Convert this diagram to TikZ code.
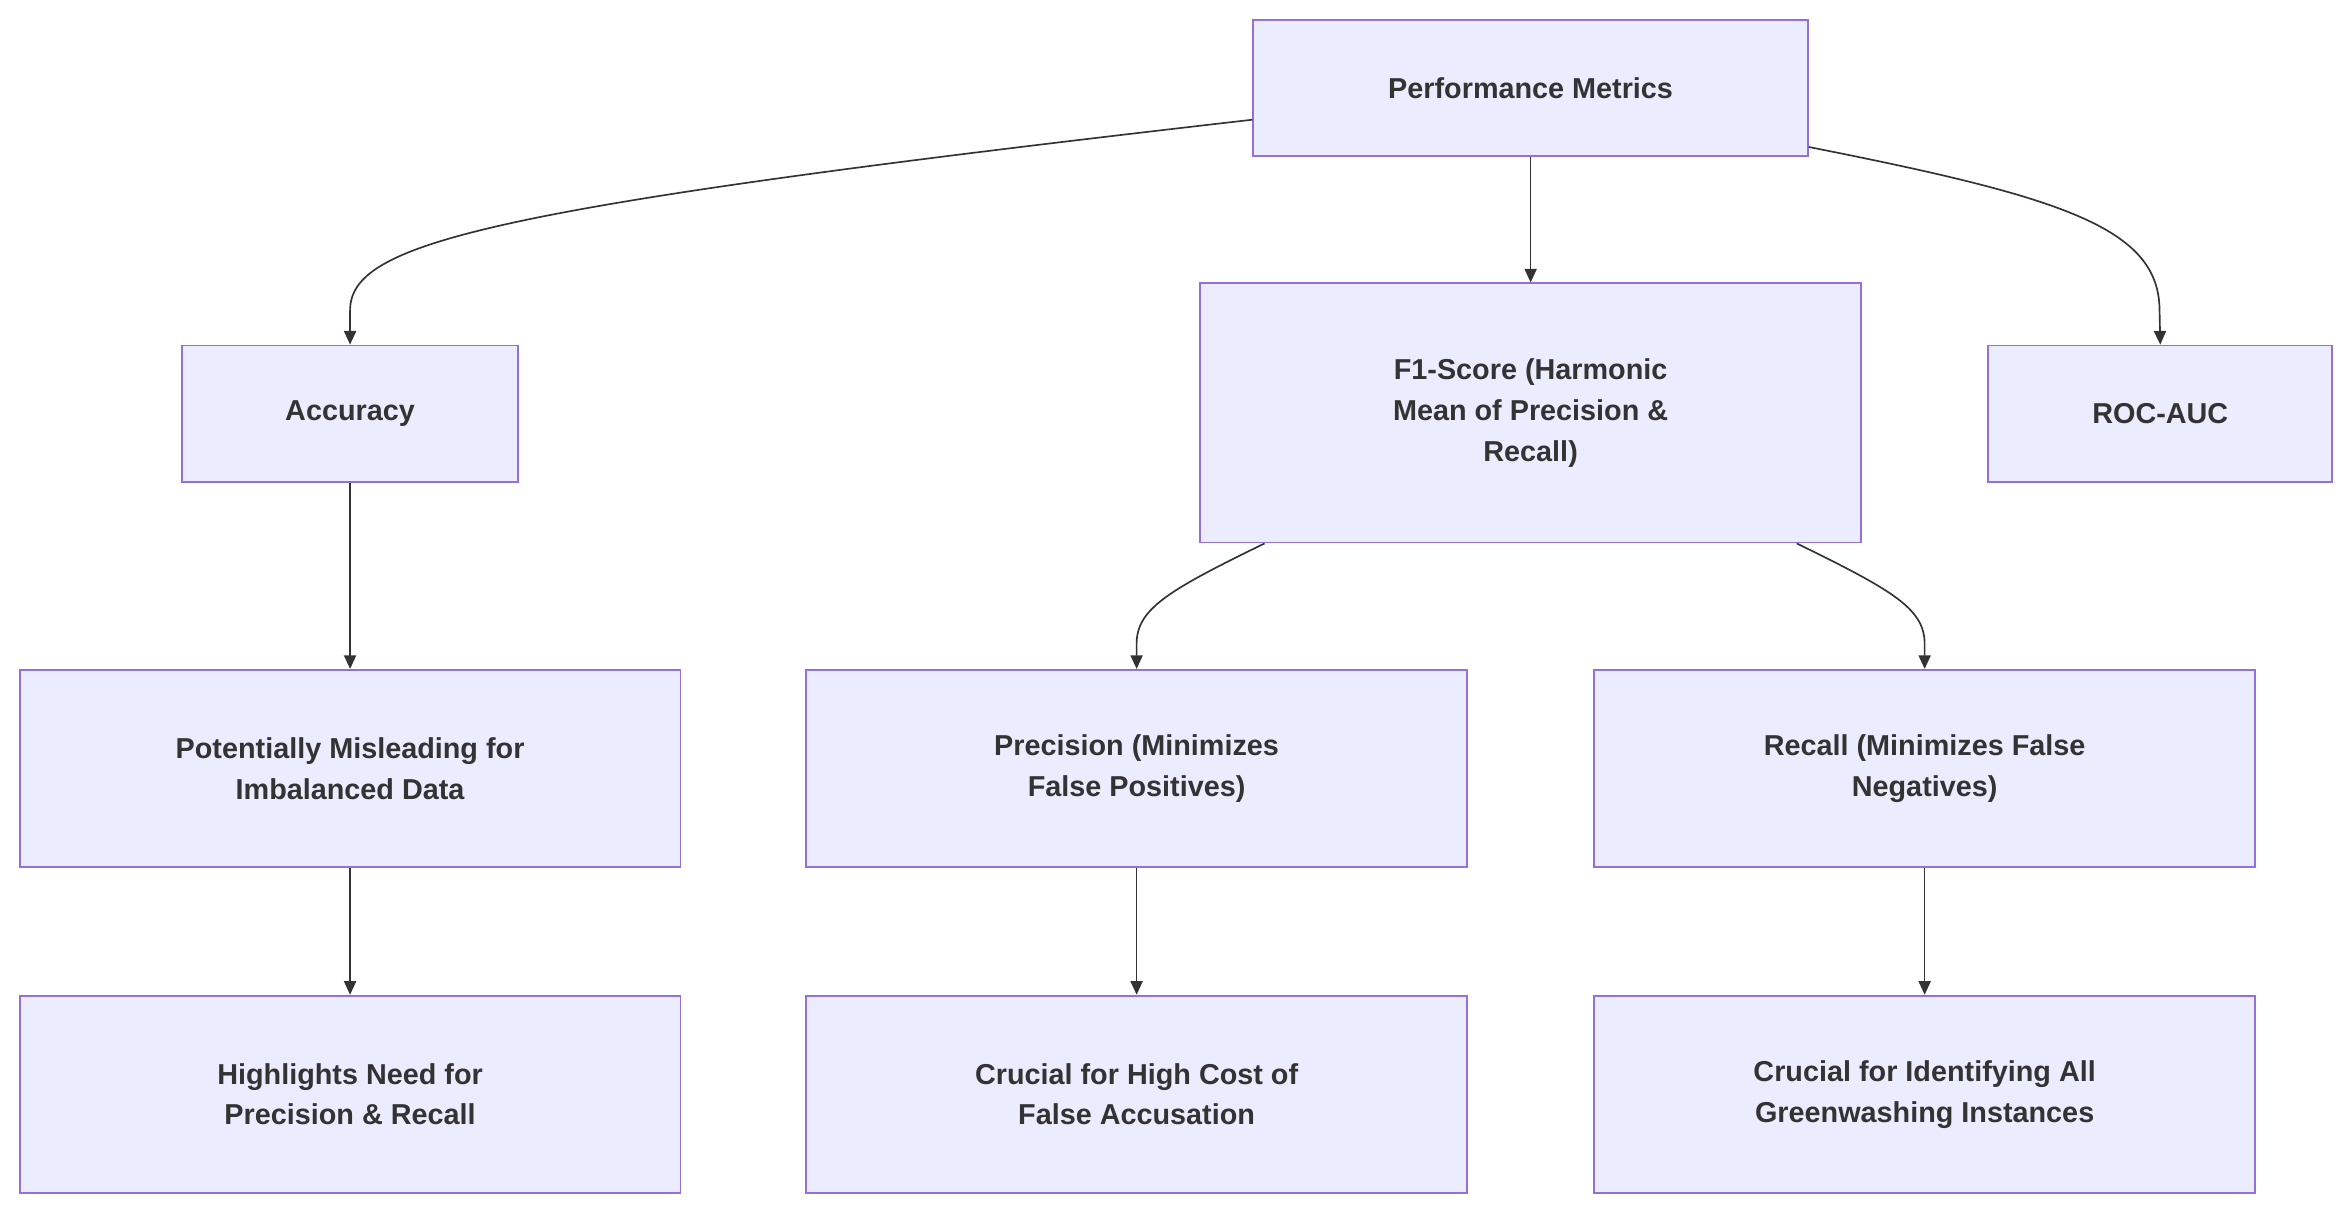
\documentclass[tikz,border=0pt]{standalone}
\usepackage{fontspec}
\setmainfont{Liberation Sans}
\usetikzlibrary{arrows.meta}
\definecolor{fillc}{HTML}{ECECFF}
\definecolor{strokec}{HTML}{9370DB}
\definecolor{txt}{HTML}{333333}
\begin{document}
\begin{tikzpicture}[x=1pt,y=-1pt,
  box/.style={draw=strokec,fill=fillc,line width=1.2pt,text=txt,font=\fontsize{19}{27}\selectfont\bfseries,align=center,inner sep=0pt},
  arr/.style={draw=txt,line width=1.1pt,-{Triangle[length=9pt,width=8pt]}}]
\useasboundingbox (0,0) rectangle (1552,802);
\node[box,minimum width=366,minimum height=90] (pm) at (1010,58) {Performance Metrics};
\node[box,minimum width=222,minimum height=90] (acc) at (231,273) {Accuracy};
\node[box,minimum width=436,minimum height=171] (f1) at (1010,272.5) {F1-Score (Harmonic\\Mean of Precision \&\\Recall)};
\node[box,minimum width=227,minimum height=90] (roc) at (1425.5,273) {ROC-AUC};
\node[box,minimum width=436,minimum height=130] (pot) at (231,507) {Potentially Misleading for\\Imbalanced Data};
\node[box,minimum width=436,minimum height=130] (prec) at (750,507) {Precision (Minimizes\\False Positives)};
\node[box,minimum width=436,minimum height=130] (rec) at (1270,507) {Recall (Minimizes False\\Negatives)};
\node[box,minimum width=436,minimum height=130] (hl) at (231,722) {Highlights Need for\\Precision \& Recall};
\node[box,minimum width=436,minimum height=130] (cc) at (750,722) {Crucial for High Cost of\\False Accusation};
\node[box,minimum width=436,minimum height=130] (ci) at (1270,722) {Crucial for Identifying All\\Greenwashing Instances};
\coordinate (pmL) at ([yshift=-21pt]pm.west);
\coordinate (pmR) at ([yshift=-39pt]pm.east);
\coordinate (f1L) at ([xshift=43pt]f1.south west);
\coordinate (f1R) at ([xshift=-43pt]f1.south east);
\draw[arr] (pmL) .. controls (320,137) and (231,160) .. (231,205) -- (acc.north);
\draw[arr] (pmR) .. controls (1360,130) and (1425,150) .. (1425,205) -- (roc.north);
\draw[arr] (pm.south) -- (f1.north);
\draw[arr] (f1L) .. controls (770,390) and (750,402) .. (750,425) -- (prec.north);
\draw[arr] (f1R) .. controls (1250,390) and (1270,402) .. (1270,425) -- (rec.north);
\draw[arr] (acc) -- (pot);
\draw[arr] (pot) -- (hl);
\draw[arr] (prec) -- (cc);
\draw[arr] (rec) -- (ci);
\end{tikzpicture}
\end{document}
